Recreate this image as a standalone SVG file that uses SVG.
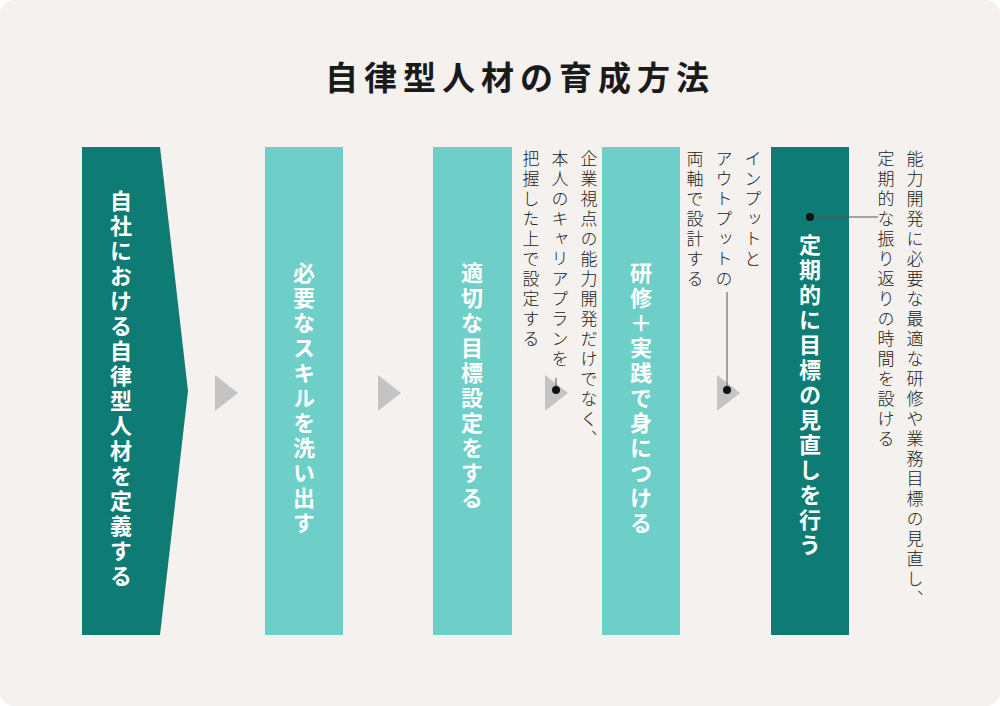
<svg xmlns="http://www.w3.org/2000/svg" width="1000" height="706" viewBox="0 0 1000 706">
<style>
text{font-family:"Noto Sans CJK JP",sans-serif;}
.v{writing-mode:vertical-rl;}
.h{font-size:22px;font-weight:bold;fill:#fff;letter-spacing:3px;}
.n{font-size:17px;font-weight:300;fill:#222;letter-spacing:3px;}
.dark{fill:#0e7c74;}
.light{fill:#6dcfc7;}
.tri{fill:#c4c4c4;}
</style>
<rect x="0" y="0" width="1000" height="706" rx="14" fill="#f4f1ee"/>
<text x="520" y="90" text-anchor="middle" font-size="33" font-weight="bold" fill="#1a1a1a" letter-spacing="6">自律型人材の育成方法</text>
<g id="step1"><polygon class="dark" points="82,147 160,147 188,391 160,635 82,635"/><text class="v h" x="121" y="190">自社における自律型人材を定義する</text></g>
<g id="step2"><rect class="light" x="265" y="147" width="78" height="488"/><text class="v h" x="304" y="262">必要なスキルを洗い出す</text></g>
<g id="step3"><rect class="light" x="433" y="147" width="79" height="488"/><text class="v h" x="472" y="262">適切な目標設定をする</text></g>
<g id="step4"><rect class="light" x="602" y="147" width="78" height="488"/><text class="v h" x="641" y="262">研修＋実践で身につける</text></g>
<g id="step5"><rect class="dark" x="771" y="147" width="78" height="488"/><text class="v h" x="810" y="234">定期的に目標の見直しを行う</text></g>
<g id="note3"><text class="v n" x="589" y="150">企業視点の能力開発だけでなく、</text><text class="v n" x="560" y="150">本人のキャリアプランを</text><text class="v n" x="531" y="150">把握した上で設定する</text></g>
<g id="note4"><text class="v n" x="753" y="150">インプットと</text><text class="v n" x="724" y="150">アウトプットの</text><text class="v n" x="695" y="150">両軸で設計する</text></g>
<g id="note5"><text class="v n" x="915" y="150">能力開発に必要な最適な研修や業務目標の見直し、</text><text class="v n" x="886" y="150">定期的な振り返りの時間を設ける</text></g>
<g id="connectors">
<polygon class="tri" points="215,375 238,393 215,411"/>
<polygon class="tri" points="378,375 401,393 378,411"/>
<polygon class="tri" points="545,375 568,393 545,411"/>
<polygon class="tri" points="717,375 740,393 717,411"/>
<line x1="556" y1="378" x2="556" y2="390" stroke="#555" stroke-width="1"/>
<circle cx="556" cy="390" r="4" fill="#111"/>
<line x1="727" y1="292" x2="727" y2="390" stroke="#555" stroke-width="1"/>
<circle cx="727" cy="390" r="4" fill="#111"/>
<line x1="810" y1="217" x2="878" y2="217" stroke="#555" stroke-width="1"/>
<circle cx="810" cy="217" r="4" fill="#111"/>
</g>
</svg>
